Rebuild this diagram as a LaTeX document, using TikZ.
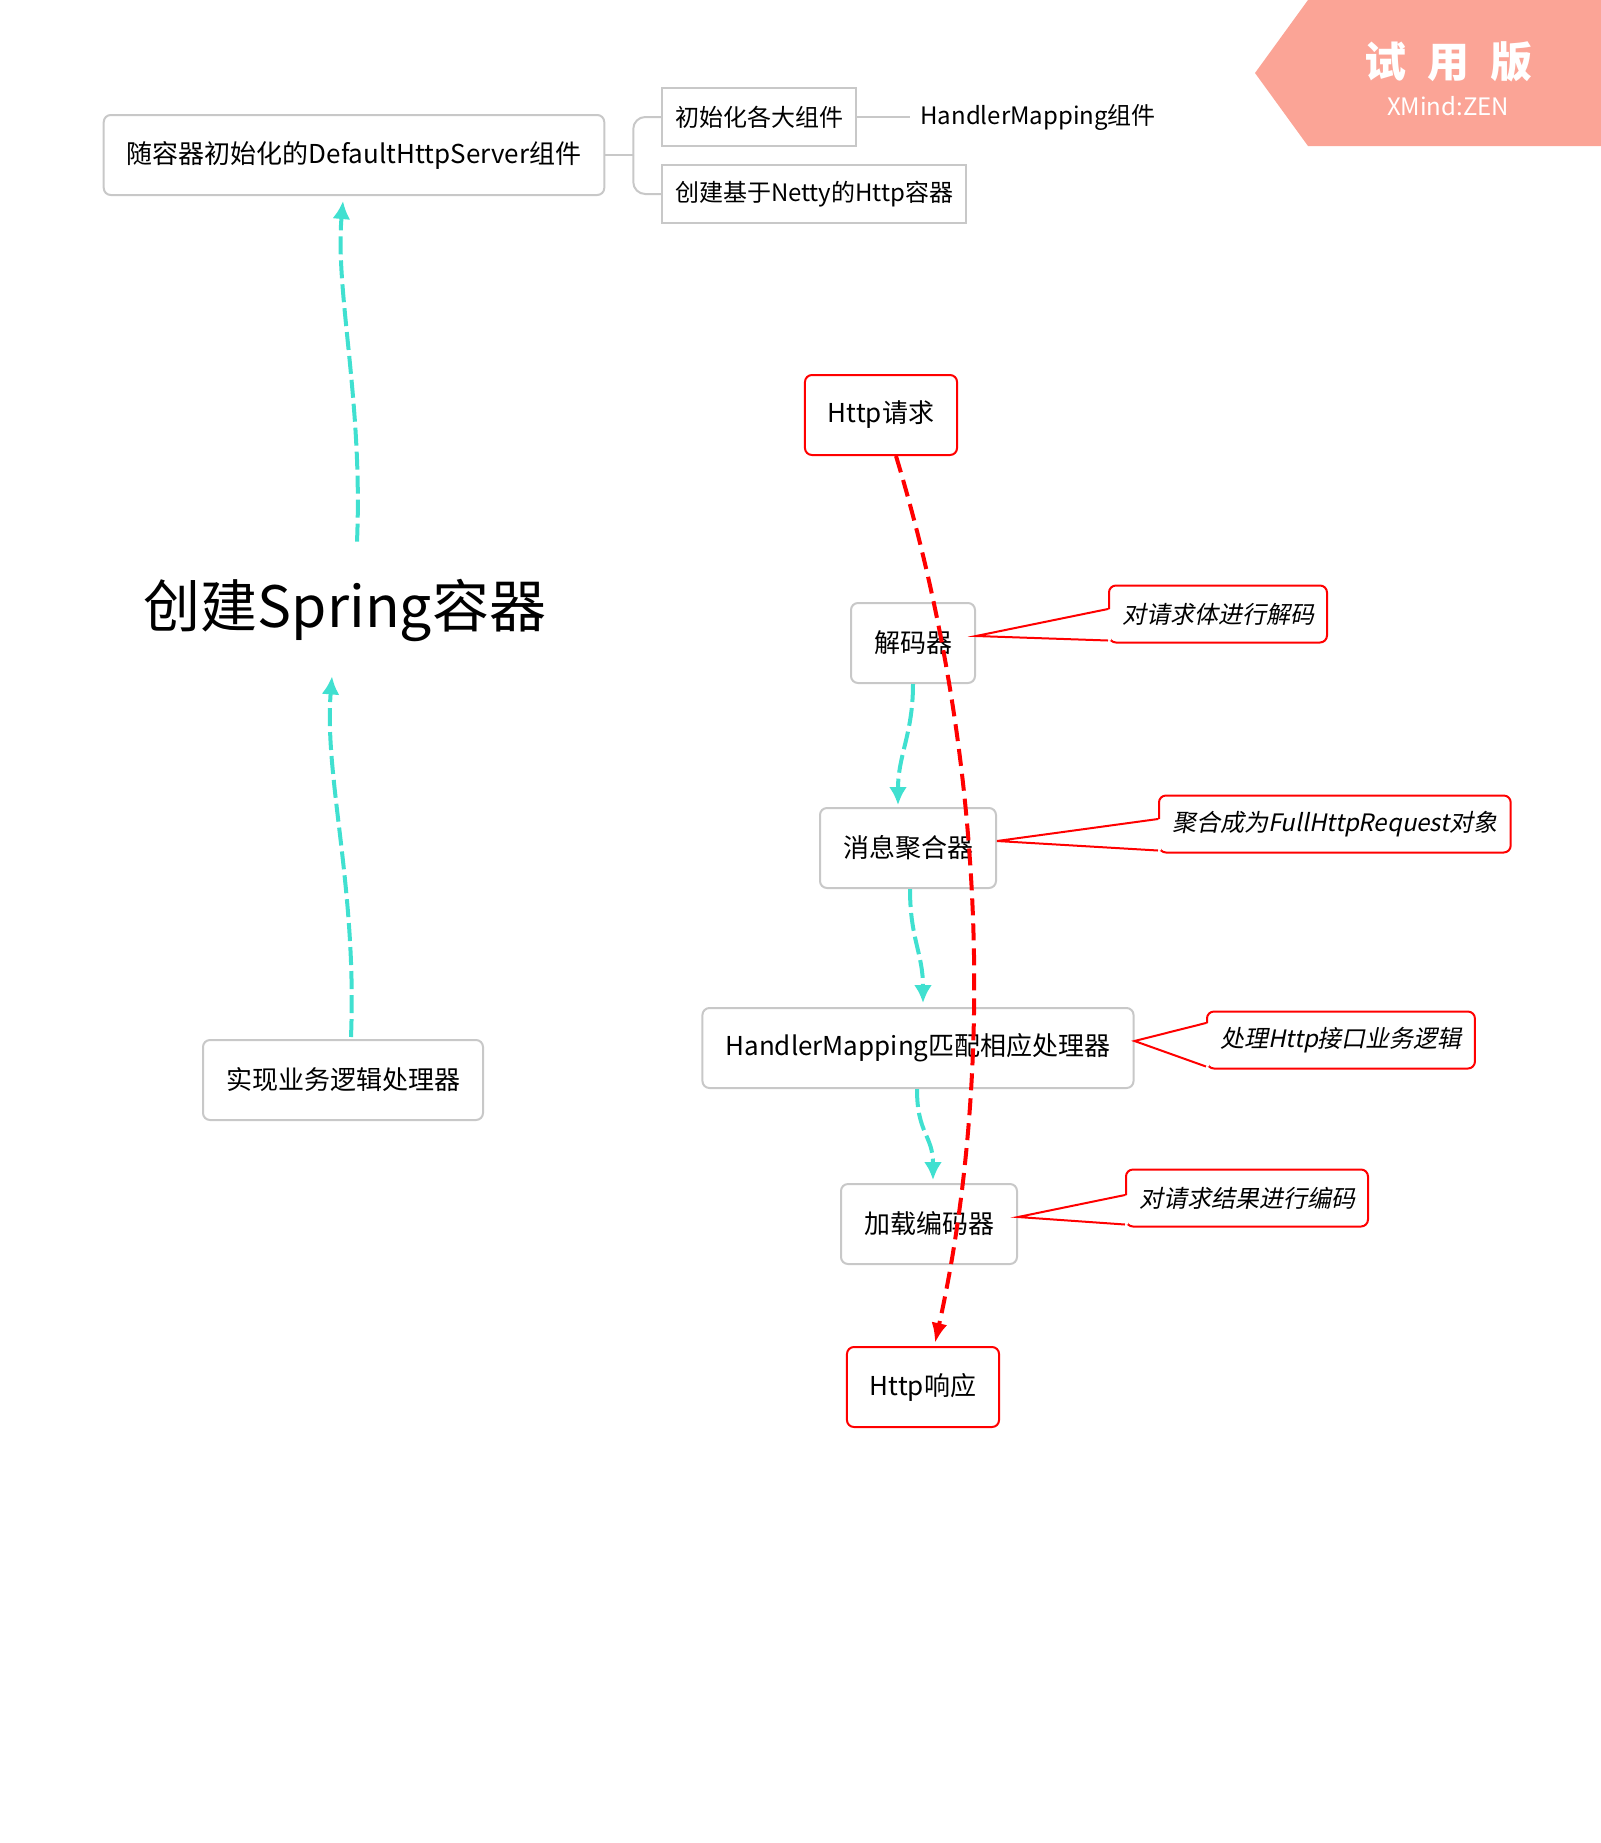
\documentclass[tikz,border=0pt]{standalone}
\usepackage{fontspec}
\setmainfont{Noto Sans CJK SC}
\newfontfamily\slantfont[FakeSlant=0.2]{Noto Sans CJK SC}
\usepackage{tikz}
\usetikzlibrary{arrows.meta,calc}
\definecolor{frame}{HTML}{C8C8C8}
\definecolor{flow}{HTML}{40E0D0}
\definecolor{hot}{HTML}{FF0000}
\definecolor{trial}{HTML}{FBA496}

\begin{document}
\begin{tikzpicture}[
  x=0.5pt,y=-0.5pt,
  topic/.style={rounded corners=3.5pt,draw=frame,line width=1pt,fill=white,
                inner xsep=11.5pt,minimum height=40pt,font=\fontsize{13}{15}\selectfont},
  subtopic/.style={draw=frame,line width=1pt,fill=white,inner xsep=6.5pt,
                   minimum height=29pt,font=\fontsize{12}{14}\selectfont},
  iobox/.style={topic,draw=hot},
  notebox/.style={rounded corners=3.5pt,draw=hot,line width=1pt,fill=white,inner xsep=6.5pt,
                  minimum height=28.5pt,font=\fontsize{12}{14}\selectfont\slantfont},
  notewedge/.style={draw=hot,line width=1pt,line join=miter},
  link/.style={draw=frame,line width=1pt},
  flowarr/.style={draw=flow,line width=2pt,dash pattern=on 9pt off 3pt,
                  -{Latex[length=9pt,width=9pt]}},
  passarr/.style={draw=hot,line width=2pt,dash pattern=on 8.5pt off 4pt,
                  -{Latex[length=10pt,width=8pt]}}
]
\useasboundingbox (0,0) rectangle (1601,1843);

% trial badge
\fill[trial] (1308,0) -- (1601,0) -- (1601,146) -- (1308,146) -- (1255,73) -- cycle;
\node[text=white,font=\fontsize{21}{24}\selectfont\bfseries] (trialmark) at (1448,62)
  {试\hspace{10.5pt}用\hspace{10.5pt}版};
\node[text=white,font=\fontsize{12}{14}\selectfont] (trialname) at (1448,106) {XMind:ZEN};

% server branch
\node[topic] (server) at (354,155) {随容器初始化的DefaultHttpServer组件};
\node[subtopic,anchor=west] (init) at (661,117) {初始化各大组件};
\node[subtopic,anchor=west] (netty) at (661,194) {创建基于Netty的Http容器};
\node[anchor=west,inner xsep=5pt,font=\fontsize{12}{14}\selectfont] (mapping) at (910,117)
  {HandlerMapping组件};
\coordinate (fork) at ($(server.east)+(28,0)$);
\draw[link] (server.east) -- (fork);
\draw[link,rounded corners=6pt] (fork) |- (init.west);
\draw[link,rounded corners=6pt] (fork) |- (netty.west);
\draw[link] (init.east) -- (mapping.west);

% spring side
\node[inner sep=0pt,minimum height=68pt,font=\fontsize{28.5}{32}\selectfont] (spring) at (345,610)
  {创建Spring容器};
\node[topic] (biz) at (343,1080) {实现业务逻辑处理器};
\draw[flowarr] ($(spring.north)+(12,0)$) .. controls +(6,-140) and +(-8,90) .. ($(server.south)+(-11,5)$);
\draw[flowarr] ($(biz.north)+(8,-2)$) .. controls +(6,-150) and +(-8,100) .. ($(spring.south)+(-13,-2)$);

% request pipeline
\node[iobox] (req) at (881,415) {Http请求};
\node[topic] (dec) at (913,643) {解码器};
\node[topic] (agg) at (908,848) {消息聚合器};
\node[topic] (hm) at (918,1048) {HandlerMapping匹配相应处理器};
\node[topic] (enc) at (929,1224) {加载编码器};
\node[iobox] (resp) at (923,1387) {Http响应};

\node[notebox,anchor=west] (decnote) at (1108,614) {对请求体进行解码};
\node[notebox,anchor=west] (aggnote) at (1158,824) {聚合成为FullHttpRequest对象};
\node[notebox,anchor=west] (hmnote) at (1206,1040) {处理Http接口业务逻辑};
\node[notebox,anchor=west] (encnote) at (1125,1198) {对请求结果进行编码};

\foreach \src/\dst/\up in {dec/decnote/5,agg/aggnote/5,hm/hmnote/17,enc/encnote/3}{
  \fill[white] ($(\src.east)+(0,-7)$) -- ($(\dst.west)+(3,-\up)$) -- ($(\dst.south west)+(3,-3)$) -- cycle;
  \draw[notewedge] ($(\dst.west)+(0,-\up)$) -- ($(\src.east)+(0,-7)$) -- ($(\dst.south west)+(0,-3)$);
}

\draw[flowarr] (dec.south) .. controls +(0,50) and +(0,-50) .. ($(agg.north)+(-10,-2)$);
\draw[flowarr] ($(agg.south)+(2,0)$) .. controls +(0,50) and +(0,-50) .. ($(hm.north)+(5,-4)$);
\draw[flowarr] ($(hm.south)+(-1,0)$) .. controls +(0,45) and +(0,-45) .. ($(enc.north)+(4,-3)$);

\draw[passarr] ($(req.south)+(15,0)$) .. controls +(104,344) and +(50,-224) .. ($(resp.north)+(12,-3)$);
\end{tikzpicture}
\end{document}
